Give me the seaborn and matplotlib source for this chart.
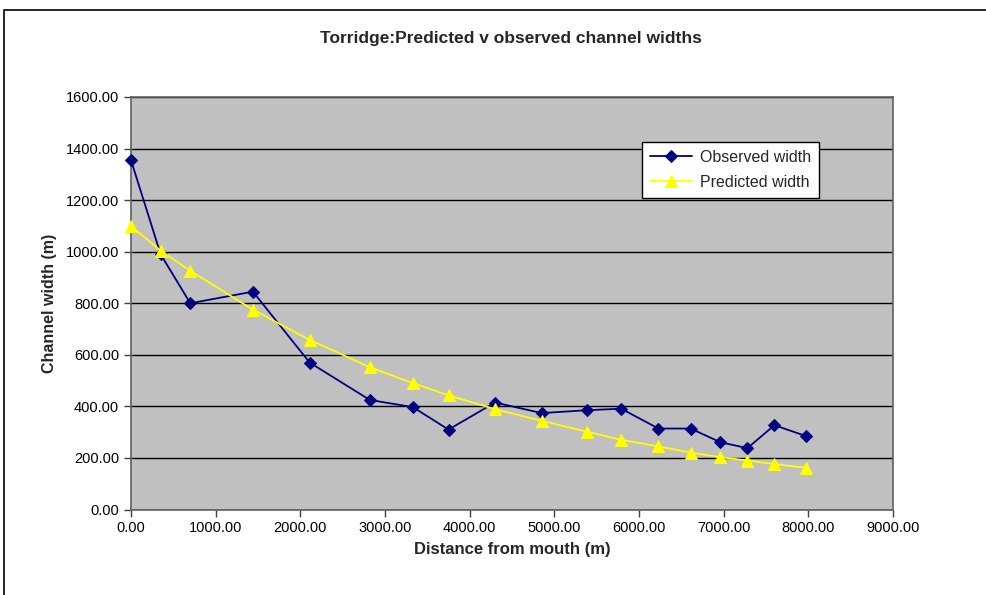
import matplotlib.pyplot as plt
import matplotlib.patches as mpatches
import matplotlib.ticker as mticker
import numpy as np
import pandas as pd
import seaborn as sns

# distance from mouth (m) and widths
distance = [0, 350, 700, 1440, 2110, 2820, 3330, 3750, 4300, 4850,
            5380, 5790, 6230, 6610, 6960, 7280, 7600, 7970]
observed = [1355, 990, 800, 845, 570, 425, 397, 310, 415, 374,
            385, 391, 314, 314, 261, 238, 327, 285]
predicted = [1100, 1004, 926, 775, 658, 552, 490, 443, 389, 344,
             302, 270, 245, 221, 203, 190, 176, 162]

df = pd.DataFrame({"distance": distance, "Observed width": observed,
                   "Predicted width": predicted})

sns.set_style("white")
plt.rcParams['font.family'] = ['Liberation Sans', 'DejaVu Sans']

W, H = 987, 595
fig = plt.figure(figsize=(W / 100, H / 100), dpi=100)
ax = fig.add_axes([131 / W, 1 - 509.5 / H, (893 - 131) / W, (509.5 - 97) / H])

# outer chart border (only left/top visible in original)
fig.patches.append(mpatches.Rectangle((4 / W, -0.05), 1.2, 1 - 10 / H + 0.05,
                                      transform=fig.transFigure, fill=False,
                                      edgecolor='black', linewidth=1.2))

ax.set_facecolor('#C0C0C0')
sns.lineplot(data=df, x="distance", y="Observed width", ax=ax, color='#000080',
             marker='D', markersize=6, markeredgecolor='#000080', linewidth=1.3,
             label="Observed width", clip_on=False, zorder=3)
sns.lineplot(data=df, x="distance", y="Predicted width", ax=ax, color='#FFFF00',
             marker='^', markersize=8, markeredgecolor='#FFFF00', linewidth=1.3,
             label="Predicted width", clip_on=False, zorder=3)

ax.set_xlim(0, 9000)
ax.set_ylim(0, 1600)
ax.xaxis.set_major_locator(mticker.MultipleLocator(1000))
ax.yaxis.set_major_locator(mticker.MultipleLocator(200))
ax.xaxis.set_major_formatter(mticker.FormatStrFormatter('%.2f'))
ax.yaxis.set_major_formatter(mticker.FormatStrFormatter('%.2f'))
ax.yaxis.grid(True, color='black', linewidth=1)
ax.xaxis.grid(False)
ax.set_axisbelow(True)
for s in ax.spines.values():
    s.set_color('#606060')
    s.set_linewidth(1.2)
ax.tick_params(axis='both', direction='out', length=5, width=1, color='#404040',
               labelsize=10.5, labelcolor='black', bottom=True, left=True)

ax.set_xlabel("Distance from mouth (m)", fontsize=12, fontweight='bold', labelpad=5)
ax.set_ylabel("Channel width (m)", fontsize=11.5, fontweight='bold', labelpad=6)
fig.text(511 / W, 1 - 38 / H, "Torridge:Predicted v observed channel widths",
         ha='center', va='center', fontsize=12.5, fontweight='bold')

leg = ax.legend(loc='upper left', bbox_to_anchor=((642 - 131) / (893 - 131), (509.5 - 142) / (509.5 - 97)),
                frameon=True, fancybox=False, framealpha=1, edgecolor='black',
                fontsize=11.5, borderpad=0.5, handlelength=2.6, labelspacing=0.6,
                borderaxespad=0, handletextpad=0.5)
leg.get_frame().set_linewidth(1)

fig.savefig("out.png", dpi=100)
